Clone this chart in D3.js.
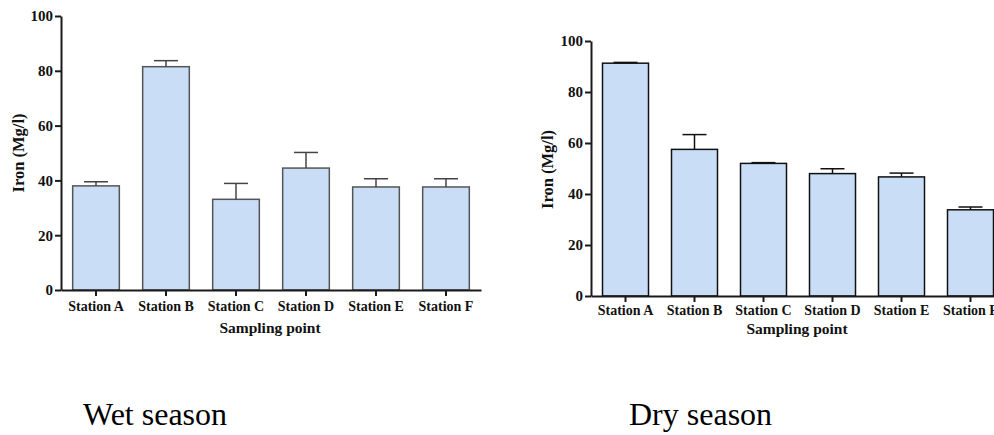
<!DOCTYPE html>
<html>
<head>
<meta charset="utf-8">
<script src="https://cdn.jsdelivr.net/npm/d3@7"></script>
<style>
  body { margin: 0; background: #fff; }
  svg { display: block; }
</style>
</head>
<body>
<div id="chart"></div>
<script>
const stations = ["Station A", "Station B", "Station C", "Station D", "Station E", "Station F"];
const wetMean = [38.0, 81.5, 33.1, 44.5, 37.6, 37.6];
const wetErr = [1.5, 2.2, 5.8, 5.7, 3.0, 3.0];
const dryMean = [91.3, 57.5, 52.0, 48.0, 46.7, 33.8];
const dryErr = [0.3, 5.8, 0.3, 1.9, 1.5, 1.1];
const yTicks = [0, 20, 40, 60, 80, 100];

const width = 994;
const height = 435;

const svg = d3.select("#chart").append("svg")
  .attr("width", width)
  .attr("height", height);

function drawPanel(opts) {
  const data = stations.map((s, i) => ({ name: s, mean: opts.mean[i], err: opts.err[i] }));
  const g = svg.append("g");

  const x = d3.scaleBand()
    .domain(stations)
    .range([opts.x0, opts.x1])
    .paddingInner(1 / 3)
    .paddingOuter(1 / 6);

  const y = d3.scaleLinear()
    .domain([0, 100])
    .range([opts.y0, opts.y1]);

  // bars
  g.selectAll(".bar")
    .data(data)
    .enter().append("rect")
    .attr("class", "bar")
    .attr("x", d => x(d.name))
    .attr("y", d => y(d.mean))
    .attr("width", x.bandwidth())
    .attr("height", d => y(0) - y(d.mean))
    .attr("fill", "#c9ddf6")
    .attr("stroke", opts.barStroke)
    .attr("stroke-width", 1.5);

  // error bars (upper only)
  const capW = 24;
  const eb = g.selectAll(".err")
    .data(data)
    .enter().append("g")
    .attr("class", "err")
    .attr("stroke", opts.errStroke)
    .attr("stroke-width", 1.5);
  eb.append("line")
    .attr("x1", d => x(d.name) + x.bandwidth() / 2)
    .attr("x2", d => x(d.name) + x.bandwidth() / 2)
    .attr("y1", d => y(d.mean))
    .attr("y2", d => y(d.mean + d.err));
  eb.append("line")
    .attr("x1", d => x(d.name) + x.bandwidth() / 2 - capW / 2)
    .attr("x2", d => x(d.name) + x.bandwidth() / 2 + capW / 2)
    .attr("y1", d => y(d.mean + d.err))
    .attr("y2", d => y(d.mean + d.err));

  // axes
  const yAxis = g.append("g")
    .attr("transform", `translate(${opts.x0},0)`)
    .call(d3.axisLeft(y).tickValues(yTicks).tickSize(6).tickSizeOuter(0).tickPadding(2));
  yAxis.selectAll("text")
    .style("font-family", "'Liberation Serif', 'Times New Roman', serif")
    .style("font-weight", "bold")
    .style("font-size", "15px")
    .attr("fill", "#111");

  const xAxis = g.append("g")
    .attr("transform", `translate(0,${opts.y0})`)
    .call(d3.axisBottom(x).tickSize(6).tickSizeOuter(0).tickPadding(opts.xPad));
  xAxis.selectAll("text")
    .style("font-family", "'Liberation Serif', 'Times New Roman', serif")
    .style("font-weight", "bold")
    .style("font-size", "14px")
    .attr("fill", "#111");

  [yAxis, xAxis].forEach(a => {
    a.select(".domain").attr("stroke", "#1a1a1a").attr("stroke-width", 2);
    a.selectAll(".tick line").attr("stroke", "#1a1a1a").attr("stroke-width", 2);
  });

  // axis titles
  g.append("text")
    .attr("transform", `translate(${opts.yLabelX},${(opts.y0 + opts.y1) / 2 + opts.yLabelShift}) rotate(-90)`)
    .attr("dy", "0.35em")
    .attr("text-anchor", "middle")
    .style("font-family", "'Liberation Serif', 'Times New Roman', serif")
    .style("font-weight", "bold")
    .style("font-size", "16.5px")
    .attr("fill", "#111")
    .text("Iron (Mg/l)");

  g.append("text")
    .attr("x", opts.titleX)
    .attr("y", opts.titleY)
    .attr("text-anchor", "middle")
    .style("font-family", "'Liberation Serif', 'Times New Roman', serif")
    .style("font-weight", "bold")
    .style("font-size", "15.5px")
    .attr("fill", "#111")
    .text("Sampling point");

  g.append("text")
    .attr("x", opts.seasonX)
    .attr("y", 425)
    .style("font-family", "'Liberation Serif', 'Times New Roman', serif")
    .style("font-size", "32px")
    .attr("fill", "#000")
    .text(opts.season);
}

drawPanel({
  mean: wetMean, err: wetErr,
  x0: 61, x1: 481, y0: 290, y1: 16,
  barStroke: "#555", errStroke: "#444",
  xPad: 5, yLabelX: 18, yLabelShift: 0,
  titleX: 270, titleY: 333,
  seasonX: 83, season: "Wet season"
});

drawPanel({
  mean: dryMean, err: dryErr,
  x0: 591, x1: 1005, y0: 296, y1: 41,
  barStroke: "#111", errStroke: "#111",
  xPad: 3, yLabelX: 547, yLabelShift: 1,
  titleX: 797, titleY: 334,
  seasonX: 629, season: "Dry season"
});
</script>
</body>
</html>
